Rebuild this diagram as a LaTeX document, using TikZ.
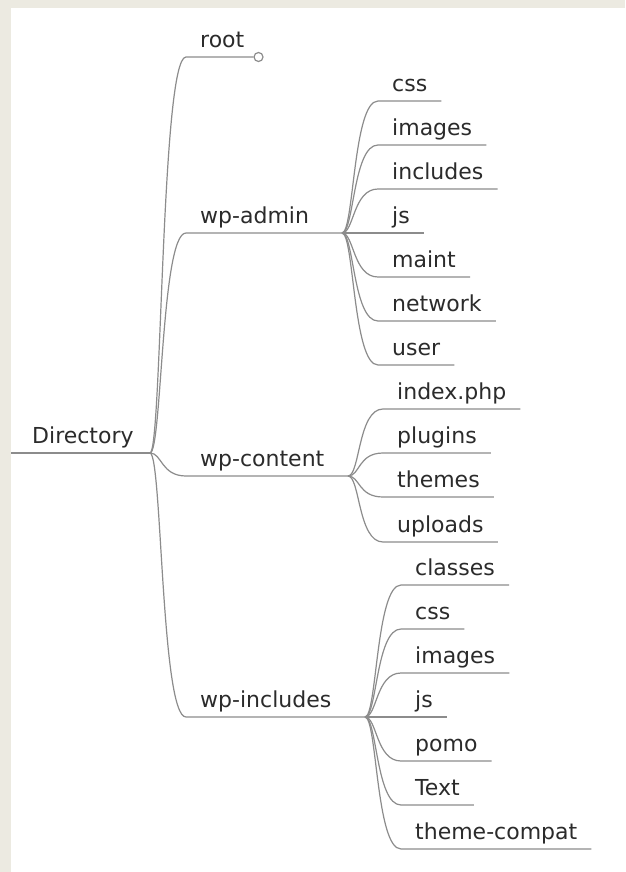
\documentclass[tikz,border=0pt]{standalone}
\usepackage{fontspec}
\setmainfont{DejaVu Sans}
\usepackage{tikz}
\definecolor{paper}{HTML}{ECEAE1}
\definecolor{ink}{HTML}{2B2B2B}
\definecolor{wire}{HTML}{8C8C8C}
\tikzset{
  leaf/.style={anchor=south west, inner xsep=14pt, inner ysep=9pt, text depth=0pt,
               text=ink, font=\fontsize{22}{26}\selectfont},
  branch/.style={draw=wire, line width=1.2pt},
  tip/.style={circle, draw=wire, line width=1.2pt, fill=white, inner sep=0pt, minimum size=9pt},
}

\begin{document}
\begin{tikzpicture}[x=1pt,y=-1pt]
    \fill[paper] (0,0) rectangle (625,872);
    \fill[white] (11,8) rectangle (625,872);
    \useasboundingbox (0,0) rectangle (625,872);
    % fork points
    \coordinate (start) at (11,453);
    \coordinate (f0) at (150,453); % Directory
    \coordinate (fa) at (342,233); % wp-admin
    \coordinate (fc) at (348,476); % wp-content
    \coordinate (fi) at (365,717); % wp-includes

    \node[leaf] (dir) at (18,453) {Directory};
    % first level
    \node[leaf] (root) at (186,57) {root};
    \node[leaf] (admin) at (186,233) {wp-admin};
    \node[leaf] (content) at (186,476) {wp-content};
    \node[leaf] (includes) at (186,717) {wp-includes};
    % wp-admin
    \node[leaf] (acss) at (378,101) {css};
    \node[leaf] (aimg) at (378,145) {images};
    \node[leaf] (ainc) at (378,189) {includes};
    \node[leaf] (ajs) at (378,233) {js};
    \node[leaf] (amaint) at (378,277) {maint};
    \node[leaf] (anet) at (378,321) {network};
    \node[leaf] (auser) at (378,365) {user};
    % wp-content
    \node[leaf] (cindex) at (383,409) {index.php};
    \node[leaf] (cplug) at (383,453) {plugins};
    \node[leaf] (cthem) at (383,497) {themes};
    \node[leaf] (cupl) at (383,542) {uploads};
    % wp-includes
    \node[leaf] (iclass) at (401,585) {classes};
    \node[leaf] (icss) at (401,629) {css};
    \node[leaf] (iimg) at (401,673) {images};
    \node[leaf] (ijs) at (401,717) {js};
    \node[leaf] (ipomo) at (401,761) {pomo};
    \node[leaf] (itext) at (401,805) {Text};
    \node[leaf] (icompat) at (401,849) {theme-compat};

    \draw[branch] (start) -- (f0);
    \node[tip] (rtip) at (root.south east) {};
    \draw[branch] (f0) .. controls +(12,0) and +(-25,0) .. (root.south west) -- (rtip);
    \draw[branch] (f0) .. controls +(12,0) and +(-25,0) .. (admin.south west) -- (fa);
    \draw[branch] (f0) .. controls +(12,0) and +(-25,0) .. (content.south west) -- (fc);
    \draw[branch] (f0) .. controls +(12,0) and +(-25,0) .. (includes.south west) -- (fi);

    \draw[branch] (fa) .. controls +(12,0) and +(-25,0) .. (acss.south west) -- (acss.south east);
    \draw[branch] (fa) .. controls +(12,0) and +(-25,0) .. (aimg.south west) -- (aimg.south east);
    \draw[branch] (fa) .. controls +(12,0) and +(-25,0) .. (ainc.south west) -- (ainc.south east);
    \draw[branch] (fa) -- (ajs.south east);
    \draw[branch] (fa) .. controls +(12,0) and +(-25,0) .. (amaint.south west) -- (amaint.south east);
    \draw[branch] (fa) .. controls +(12,0) and +(-25,0) .. (anet.south west) -- (anet.south east);
    \draw[branch] (fa) .. controls +(12,0) and +(-25,0) .. (auser.south west) -- (auser.south east);

    \draw[branch] (fc) .. controls +(12,0) and +(-25,0) .. (cindex.south west) -- (cindex.south east);
    \draw[branch] (fc) .. controls +(12,0) and +(-25,0) .. (cplug.south west) -- (cplug.south east);
    \draw[branch] (fc) .. controls +(12,0) and +(-25,0) .. (cthem.south west) -- (cthem.south east);
    \draw[branch] (fc) .. controls +(12,0) and +(-25,0) .. (cupl.south west) -- (cupl.south east);

    \draw[branch] (fi) .. controls +(12,0) and +(-25,0) .. (iclass.south west) -- (iclass.south east);
    \draw[branch] (fi) .. controls +(12,0) and +(-25,0) .. (icss.south west) -- (icss.south east);
    \draw[branch] (fi) .. controls +(12,0) and +(-25,0) .. (iimg.south west) -- (iimg.south east);
    \draw[branch] (fi) -- (ijs.south east);
    \draw[branch] (fi) .. controls +(12,0) and +(-25,0) .. (ipomo.south west) -- (ipomo.south east);
    \draw[branch] (fi) .. controls +(12,0) and +(-25,0) .. (itext.south west) -- (itext.south east);
    \draw[branch] (fi) .. controls +(12,0) and +(-25,0) .. (icompat.south west) -- (icompat.south east);
\end{tikzpicture}
\end{document}
